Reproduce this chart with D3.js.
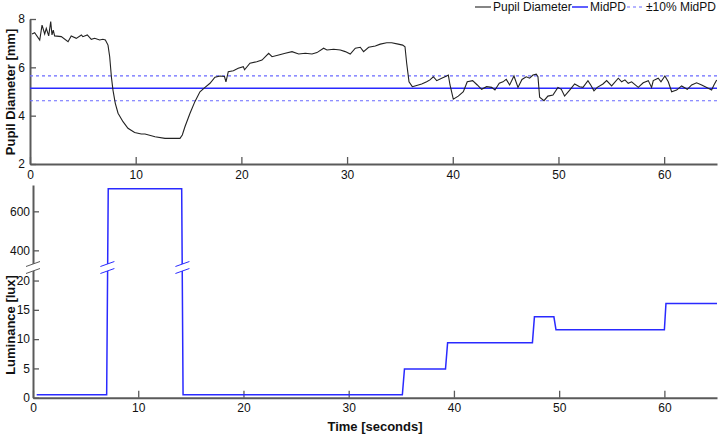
<!DOCTYPE html>
<html><head><meta charset="utf-8">
<script src="https://cdn.jsdelivr.net/npm/d3@7"></script>
<style>
body{margin:0;background:#fff;}
svg{display:block;font-family:"Liberation Sans",Arial,sans-serif;}
.axis text{font-size:12px;fill:#111;}
.axis path,.axis line{stroke:#5a5a5a;}
.axis path{stroke-width:2;}
.axis line{stroke-width:1.3;}
.title{font-size:13px;font-weight:bold;fill:#111;}
.leg{font-size:12px;fill:#111;}
</style></head>
<body>
<svg id="chart" width="720" height="436"></svg>
<script>
// ---- data ----
const pupilTime = [0.19,0.44,0.92,1.14,1.39,1.54,1.77,1.96,2.08,2.20,2.33,2.96,3.60,3.90,4.38,4.86,5.00,5.42,5.80,6.12,6.59,6.90,7.13,7.38,7.54,7.70,7.85,8.07,8.33,8.80,9.27,9.90,10.53,10.88,11.83,12.77,13.40,14.19,14.41,14.66,15.14,15.60,16.08,16.56,17.03,17.50,17.98,18.40,18.54,18.76,19.24,19.70,20.18,20.30,20.81,21.45,21.95,22.58,22.90,23.53,24.15,24.79,25.42,26.05,26.68,27.15,27.78,28.10,28.73,29.36,29.83,30.30,30.78,31.25,31.56,32.04,32.67,33.14,33.75,34.22,34.84,35.26,35.48,35.64,35.86,36.17,36.42,36.74,37.06,37.53,37.84,38.16,38.48,38.95,39.42,39.58,39.74,40.05,40.52,41.00,41.37,41.88,42.32,42.73,43.20,43.68,43.99,44.40,44.75,45.06,45.38,45.79,46.17,46.55,46.95,47.27,47.59,47.90,48.06,48.22,48.63,49.00,49.48,49.95,50.27,50.58,51.06,51.53,52.00,52.32,52.79,53.05,53.36,53.67,54.21,54.56,55.03,55.66,55.98,56.29,56.60,56.92,57.55,58.02,58.50,58.81,58.97,59.44,59.70,60.07,60.39,60.71,61.18,61.65,62.19,62.60,63.07,63.55,64.17,64.49,64.71,64.97];
const pupilDiam = [7.38,7.43,7.13,7.75,7.38,7.61,7.30,7.89,7.34,7.54,7.30,7.27,7.06,7.30,7.20,7.34,7.27,7.34,7.16,7.20,7.13,7.16,7.13,6.92,6.44,5.61,5.06,4.51,4.10,3.75,3.48,3.30,3.24,3.24,3.13,3.06,3.06,3.06,3.20,3.54,4.10,4.58,4.99,5.17,5.34,5.59,5.64,5.62,5.40,5.82,5.86,5.96,6.03,5.90,6.17,6.23,6.30,6.58,6.44,6.51,6.58,6.65,6.55,6.58,6.55,6.61,6.79,6.72,6.75,6.72,6.65,6.55,6.79,6.83,6.65,6.83,6.88,6.96,7.02,7.02,6.96,6.92,6.85,6.17,5.40,5.20,5.23,5.27,5.31,5.40,5.48,5.61,5.45,5.55,5.64,5.68,5.27,4.68,4.81,4.99,5.40,5.45,5.27,5.09,5.20,5.17,5.06,5.34,5.40,5.50,5.27,5.64,5.17,5.50,5.61,5.55,5.68,5.72,5.61,4.76,4.62,4.81,4.85,5.17,5.09,4.81,5.06,5.31,5.20,5.17,5.45,5.27,5.03,5.17,5.31,5.45,5.23,5.55,5.40,5.48,5.34,5.40,5.17,5.36,5.45,5.17,5.45,5.55,5.40,5.64,5.40,4.99,5.06,5.23,5.09,5.27,5.36,5.27,5.13,5.06,5.27,5.48];
const midPD = 5.13;
const lumTime  = [0.35,7.0,7.15,14.13,14.26,35.1,35.3,39.2,39.4,47.46,47.65,49.5,49.7,60.0,60.15,65];
const lumValue = [0.5,0.5,716,716,0.5,0.5,4.9,4.9,9.4,9.4,13.8,13.8,11.6,11.6,16.1,16.1];
const xTicks = [0,10,20,30,40,50,60];
const pupilTicks = [2,4,6,8];
const lumLowTicks = [0,5,10,15,20];
const lumHighTicks = [400,600];
const legendLabels = ["Pupil Diameter","MidPD","\u00b110% MidPD"];

const svg = d3.select("#chart");
const fmt = d3.format("d");

// ---- top panel ----
const x1 = d3.scaleLinear().domain([0,65]).range([30,717]);
const y1 = d3.scaleLinear().domain([2,8]).range([164,19]);

svg.append("g").attr("class","axis").attr("transform","translate(0,164)")
  .call(d3.axisBottom(x1).tickValues(xTicks).tickFormat(fmt).tickSizeInner(-7).tickSizeOuter(0).tickPadding(6));
svg.append("g").attr("class","axis").attr("transform","translate(30,0)")
  .call(d3.axisLeft(y1).tickValues(pupilTicks).tickFormat(fmt).tickSizeInner(-6).tickSizeOuter(0).tickPadding(5));

const blue = "#2a2aff";
[midPD*1.1, midPD*0.9].forEach(v=>{
  svg.append("line").attr("x1",x1(0)).attr("x2",x1(65)).attr("y1",y1(v)).attr("y2",y1(v))
    .attr("stroke","#6a6aff").attr("stroke-width",1.2).attr("stroke-dasharray","3,3");
});
svg.append("line").attr("x1",x1(0)).attr("x2",x1(65)).attr("y1",y1(midPD)).attr("y2",y1(midPD))
  .attr("stroke",blue).attr("stroke-width",1.5);

const pupilData = pupilTime.map((t,i)=>[t,pupilDiam[i]]);
svg.append("path").datum(pupilData)
  .attr("d", d3.line().x(d=>x1(d[0])).y(d=>y1(d[1])))
  .attr("fill","none").attr("stroke","#222").attr("stroke-width",1.1);

svg.append("text").attr("class","title").attr("text-anchor","middle")
  .attr("transform","translate(15,92) rotate(-90)").text("Pupil Diameter [mm]");

// legend
const leg = svg.append("g");
const legX = [475, 572, 627];
const legTX = [493, 590, 646];
leg.append("line").attr("x1",legX[0]).attr("x2",legX[0]+16).attr("y1",7).attr("y2",7).attr("stroke","#222").attr("stroke-width",1.1);
leg.append("line").attr("x1",legX[1]).attr("x2",legX[1]+16).attr("y1",7).attr("y2",7).attr("stroke",blue).attr("stroke-width",1.5);
leg.append("line").attr("x1",legX[2]).attr("x2",legX[2]+16).attr("y1",7).attr("y2",7).attr("stroke","#6a6aff").attr("stroke-width",1.2).attr("stroke-dasharray","3,3");
legendLabels.forEach((l,i)=>{
  leg.append("text").attr("class","leg").attr("x",legTX[i]).attr("y",11).text(l);
});

// ---- bottom panel ----
const x2 = d3.scaleLinear().domain([0,65]).range([33,717]);
const yLow = d3.scaleLinear().domain([0,21.8]).range([397.7,270]);
const yHigh = d3.scaleLinear().domain([330,735]).range([264,185]);
const y2 = d3.scaleLinear().domain([0,21.8,330,735]).range([397.7,270,264,185]);

svg.append("g").attr("class","axis").attr("transform","translate(0,397.7)")
  .call(d3.axisBottom(x2).tickValues(xTicks).tickFormat(fmt).tickSizeInner(-7).tickSizeOuter(0).tickPadding(6));
svg.append("g").attr("class","axis").attr("transform","translate(33,0)")
  .call(d3.axisLeft(yLow).tickValues(lumLowTicks).tickFormat(fmt).tickSizeInner(-6).tickSizeOuter(0).tickPadding(3));
svg.append("g").attr("class","axis").attr("transform","translate(33,0)")
  .call(d3.axisLeft(yHigh).tickValues(lumHighTicks).tickFormat(fmt).tickSizeInner(-6).tickSizeOuter(0).tickPadding(3));

const lumData = lumTime.map((t,i)=>[t,lumValue[i]]);
svg.append("path").datum(lumData)
  .attr("d", d3.line().x(d=>x2(d[0])).y(d=>y2(d[1])))
  .attr("fill","none").attr("stroke",blue).attr("stroke-width",1.5);

// break marks
function breakMark(cx, color){
  const g = svg.append("g");
  g.append("polygon")
    .attr("points",[[cx-7,266.5],[cx+7,261.5],[cx+7,268.5],[cx-7,273.5]].map(p=>p.join(",")).join(" "))
    .attr("fill","#fff");
  [266.5,273.5].forEach(yb=>{
    g.append("line").attr("x1",cx-7).attr("x2",cx+7).attr("y1",yb).attr("y2",yb-5)
      .attr("stroke",color).attr("stroke-width",1);
  });
}
breakMark(33,"#5a5a5a");
breakMark(x2(7.07),blue);
breakMark(x2(14.2),blue);

svg.append("text").attr("class","title").attr("text-anchor","middle")
  .attr("transform","translate(14.5,325) rotate(-90)").text("Luminance [lux]");
svg.append("text").attr("class","title").attr("text-anchor","middle")
  .attr("x",375).attr("y",431).text("Time [seconds]");
</script>
</body></html>
